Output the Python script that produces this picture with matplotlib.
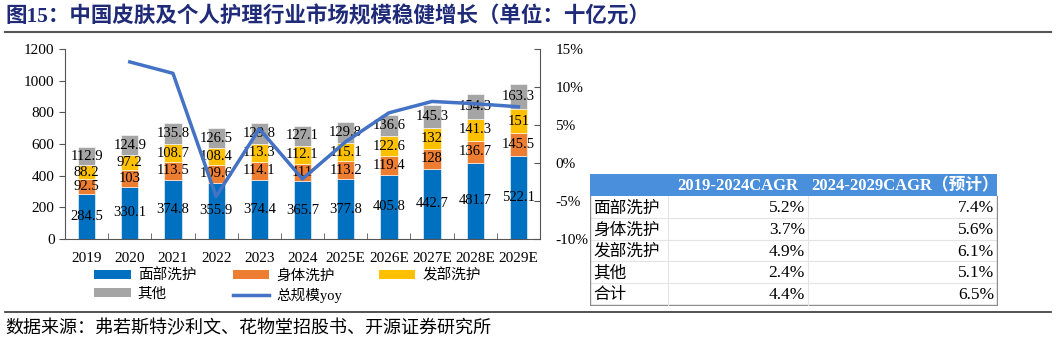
import matplotlib
matplotlib.use('Agg')
import matplotlib.pyplot as plt
import numpy as np
from matplotlib.patches import Patch
from matplotlib.lines import Line2D
from matplotlib.ticker import FuncFormatter, FixedLocator

plt.rcParams['font.family'] = ['Liberation Serif', 'Noto Sans CJK SC']

years = ['2019', '2020', '2021', '2022', '2023', '2024',
         '2025E', '2026E', '2027E', '2028E', '2029E']
face = [284.5, 330.1, 374.8, 355.9, 374.4, 365.7, 377.8, 405.8, 442.7, 481.7, 522.1]
body = [92.5, 103, 113.5, 109.6, 114.1, 111, 113.2, 119.4, 128, 136.7, 145.5]
hair = [88.2, 97.2, 108.7, 108.4, 113.3, 112.1, 115.1, 122.6, 132, 141.3, 151]
other = [112.9, 124.9, 135.8, 126.5, 129.8, 127.1, 129.8, 136.6, 145.3, 154.3, 163.3]
yoy = [None, 13.3, 11.8, -4.4, 4.5, -2.1, 2.8, 6.6, 8.1, 7.8, 7.4]

series_names = ['面部洗护', '身体洗护', '发部洗护', '其他']
colors = ['#0070C0', '#ED7D31', '#FFC000', '#A5A5A5']
line_color = '#4472C4'

table_cols = ['', '2019-2024CAGR', '2024-2029CAGR（预计）']
table_rows = ['面部洗护', '身体洗护', '发部洗护', '其他', '合计']
cagr_hist = ['5.2%', '3.7%', '4.9%', '2.4%', '4.4%']
cagr_fcst = ['7.4%', '5.6%', '6.1%', '5.1%', '6.5%']

W, H = 1057, 343
fig = plt.figure(figsize=(W / 100, H / 100), dpi=100)

def px_axes(x0, y0, x1, y1):
    return fig.add_axes([x0 / W, 1 - y1 / H, (x1 - x0) / W, (y1 - y0) / H])

ax = px_axes(65, 49, 540, 239)
x = np.arange(len(years))
bottom = np.zeros(len(years))
handles = []
for vals, name, c in zip([face, body, hair, other], series_names, colors):
    vals = np.array(vals, dtype=float)
    ax.bar(x, vals, 0.4, bottom=bottom, color=c, edgecolor='white', linewidth=0.4, zorder=2)
    for xi, b, v in zip(x, bottom, vals):
        ax.text(xi, b + v / 2, f'{v:g}', ha='center', va='center', fontsize=10.5,
                color='black', zorder=5)
    bottom += vals
    handles.append(Patch(facecolor=c, label=name))

ax.set_xlim(-0.5, 10.5)
ax.set_ylim(0, 1200)
ax.set_yticks(np.arange(0, 1201, 200))
ax.set_xticks(x)
ax.set_xticklabels(years)
ax.xaxis.set_minor_locator(FixedLocator(np.arange(-0.5, 10.6, 1)))
ax.tick_params(axis='x', which='major', length=0, labelsize=11, pad=9)
ax.tick_params(axis='x', which='minor', length=4, direction='in', color='#555555')
ax.tick_params(axis='y', length=4, direction='out', labelsize=11, color='#555555')
ax.spines['top'].set_visible(False)
ax.spines['right'].set_visible(False)
for s in ['left', 'bottom']:
    ax.spines[s].set_color('#555555')

ax2 = ax.twinx()
xs = [xi for xi, v in zip(x, yoy) if v is not None]
ys = [v for v in yoy if v is not None]
ax2.plot(xs, ys, color=line_color, lw=2.5, zorder=4)
ax2.set_ylim(-10, 15)
ax2.set_yticks(np.arange(-10, 16, 5))
ax2.yaxis.set_major_formatter(FuncFormatter(lambda v, p: f'{v:.0f}%'))
ax2.tick_params(axis='y', length=4, direction='in', labelsize=11, color='#555555', pad=11)
ax2.spines['top'].set_visible(False)
ax2.spines['left'].set_visible(False)
ax2.spines['bottom'].set_visible(False)
ax2.spines['right'].set_color('#555555')

line_handle = Line2D([0], [0], color=line_color, lw=2.5, label='总规模yoy')
order = [handles[0], handles[3], handles[1], line_handle, handles[2]]
fig.legend(handles=order, ncol=3, loc='upper left', bbox_to_anchor=(81 / W, 1 - 255 / H),
           frameon=False, handlelength=2.5, handleheight=0.55,
           columnspacing=2.5, handletextpad=0.5, labelspacing=0.35,
           prop={'family': ['Liberation Serif', 'Noto Sans CJK SC'], 'size': 10.5})

# table
tx = px_axes(590, 174, 998, 306)
tx.set_xlim(590, 998)
tx.set_ylim(306, 174)
tx.axis('off')
col_x = [590, 668, 808, 997]
row_y = [174, 196, 218, 240, 261, 283, 305]
tx.fill_between([col_x[0], col_x[-1]], row_y[0], row_y[1], color='#4A8FDB', lw=0)
for yy in row_y[2:-1]:
    tx.plot([col_x[0], col_x[-1]], [yy, yy], color='#E4E4E4', lw=0.8)
tx.plot([col_x[0], col_x[-1]], [row_y[-1], row_y[-1]], color='#8C8C8C', lw=1)
for xx in col_x[1:3]:
    tx.plot([xx, xx], [row_y[1], row_y[-1]], color='#E4E4E4', lw=0.8)
tx.plot([col_x[0], col_x[0]], [row_y[1], row_y[-1]], color='#8C8C8C', lw=1)
tx.plot([col_x[-1], col_x[-1]], [row_y[1], row_y[-1]], color='#8C8C8C', lw=1)
tx.text((col_x[1] + col_x[2]) / 2, (row_y[0] + row_y[1]) / 2 + 1, table_cols[1],
        ha='center', va='center', color='white', fontsize=12, fontweight='bold')
tx.text((col_x[2] + col_x[3]) / 2 + 2, (row_y[0] + row_y[1]) / 2 + 1, table_cols[2],
        ha='center', va='center', color='white', fontsize=12, fontweight='bold')
for i, (name, a, b) in enumerate(zip(table_rows, cagr_hist, cagr_fcst)):
    yc = (row_y[i + 1] + row_y[i + 2]) / 2 + 1
    tx.text(col_x[0] + 3, yc, name, ha='left', va='center', fontsize=12,
            family=['Noto Sans CJK SC'])
    tx.text(col_x[2] - 3, yc, a, ha='right', va='center', fontsize=12.5)
    tx.text(col_x[3] - 3, yc, b, ha='right', va='center', fontsize=12.5)

# title, rules, source
fig.text(5 / W, 1 - 17 / H, '图15：中国皮肤及个人护理行业市场规模稳健增长（单位：十亿元）',
         ha='left', va='center', fontsize=15.5, fontweight='bold', color='#1F2A78')
fig.add_artist(Line2D([5 / W, 1051 / W], [1 - 32 / H] * 2, color='#555555', lw=1.5))
fig.add_artist(Line2D([5 / W, 1051 / W], [1 - 312 / H] * 2, color='#333333', lw=1.2))
fig.text(5 / W, 1 - 328 / H, '数据来源：弗若斯特沙利文、花物堂招股书、开源证券研究所',
         ha='left', va='center', fontsize=13, family=['Noto Sans CJK SC'])

fig.savefig('out.png', dpi=100)
